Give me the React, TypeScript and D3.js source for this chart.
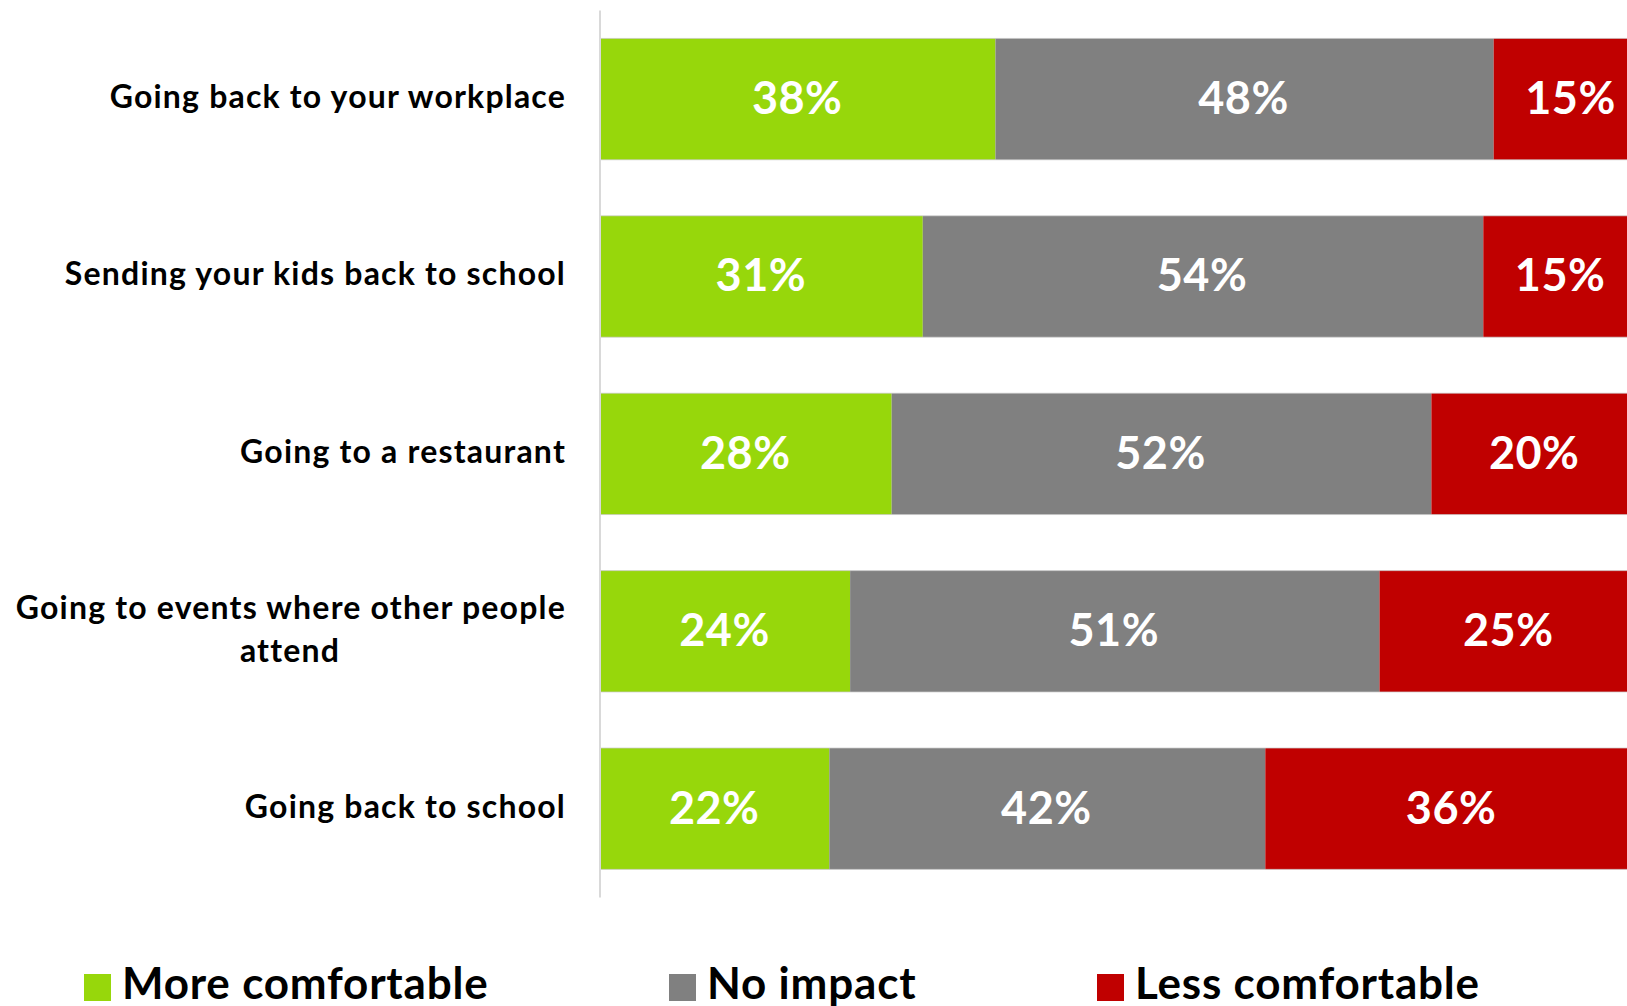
import React, { useEffect, useRef } from 'react';
import * as d3 from 'd3';

const width = 1627;
const height = 1006;

const categories = [
  'Going back to your workplace',
  'Sending your kids back to school',
  'Going to a restaurant',
  'Going to events where other people\nattend',
  'Going back to school',
];
const seriesNames = ['More comfortable', 'No impact', 'Less comfortable'];
const moreComfortable = [38, 31, 28, 24, 22];
const noImpact = [48, 54, 52, 51, 42];
const lessComfortable = [15, 15, 20, 25, 36];
const colors = ['#97d70b', '#808080', '#c00000'];

const font = 'Lato, "Noto Sans", sans-serif';

const App: React.FC = () => {
  const ref = useRef<SVGSVGElement>(null);

  useEffect(() => {
    if (!ref.current) return;
    const svg = d3.select(ref.current);
    svg.selectAll('*').remove();

    const rows = categories.map((c, i) => ({
      category: c,
      [seriesNames[0]]: moreComfortable[i],
      [seriesNames[1]]: noImpact[i],
      [seriesNames[2]]: lessComfortable[i],
    }));

    const stacked = d3.stack<any>().keys(seriesNames)(rows);

    const x = d3.scaleLinear().domain([0, 100]).range([600, 1638]);
    const y = d3
      .scaleBand()
      .domain(categories)
      .range([10.4, 897.4])
      .paddingInner(0.316)
      .paddingOuter(0.158);

    // axis line
    svg
      .append('line')
      .attr('x1', x(0))
      .attr('x2', x(0))
      .attr('y1', y.range()[0])
      .attr('y2', y.range()[1])
      .attr('stroke', '#d9d9d9')
      .attr('stroke-width', 2);

    const groups = svg
      .selectAll('g.series')
      .data(stacked)
      .enter()
      .append('g')
      .attr('class', 'series')
      .attr('fill', (_d, i) => colors[i]);

    groups
      .selectAll('rect')
      .data(d => d)
      .enter()
      .append('rect')
      .attr('x', d => x(d[0]) + 1)
      .attr('y', d => y(d.data.category)!)
      .attr('width', d => x(d[1]) - x(d[0]))
      .attr('height', y.bandwidth());

    // thin edge lines top & bottom of bars
    categories.forEach(c => {
      [y(c)!, y(c)! + y.bandwidth()].forEach(yy => {
        svg
          .append('line')
          .attr('x1', x(0) + 1)
          .attr('x2', width)
          .attr('y1', yy)
          .attr('y2', yy)
          .attr('stroke', '#c8c8c8')
          .attr('stroke-opacity', 0.7)
          .attr('stroke-width', 1);
      });
    });

    groups
      .selectAll('text')
      .data(d => d)
      .enter()
      .append('text')
      .attr('x', d => (x(d[0]) + x(d[1])) / 2)
      .attr('y', d => y(d.data.category)! + y.bandwidth() / 2)
      .attr('dy', '0.33em')
      .attr('text-anchor', 'middle')
      .attr('fill', '#fff')
      .style('font-family', font)
      .style('font-weight', 700)
      .style('font-size', '45px')
      .style('letter-spacing', '0.5px')
      .text(d => `${d[1] - d[0]}%`);

    // category labels
    categories.forEach(c => {
      const lines = c.split('\n');
      const cy = y(c)! + y.bandwidth() / 2;
      const lh = 43;
      const t = svg
        .append('text')
        .attr('fill', '#000')
        .style('font-family', font)
        .style('font-weight', 700)
        .style('font-size', '32px')
        .style('letter-spacing', '1.2px');
      lines.forEach((ln, i) => {
        t.append('tspan')
          .attr('x', i === 0 ? 566 : 290)
          .attr('text-anchor', i === 0 ? 'end' : 'middle')
          .attr('y', cy + (i - (lines.length - 1) / 2) * lh)
          .attr('dy', '0.28em')
          .text(ln);
      });
    });

    // legend
    const legendX = [84, 669, 1097];
    seriesNames.forEach((name, i) => {
      svg
        .append('rect')
        .attr('x', legendX[i])
        .attr('y', 974)
        .attr('width', 27)
        .attr('height', 27)
        .attr('fill', colors[i]);
      svg
        .append('text')
        .attr('x', legendX[i] + 38)
        .attr('y', 999)
        .attr('fill', '#000')
        .style('font-family', font)
        .style('font-weight', 700)
        .style('font-size', '44px')
        .style('letter-spacing', '0.8px')
        .text(name);
    });
  }, []);

  return (
    <svg
      ref={ref}
      width={width}
      height={height}
      style={{ position: 'absolute', left: 0, top: 0, background: '#fff', overflow: 'hidden' }}
    />
  );
};

export default App;
